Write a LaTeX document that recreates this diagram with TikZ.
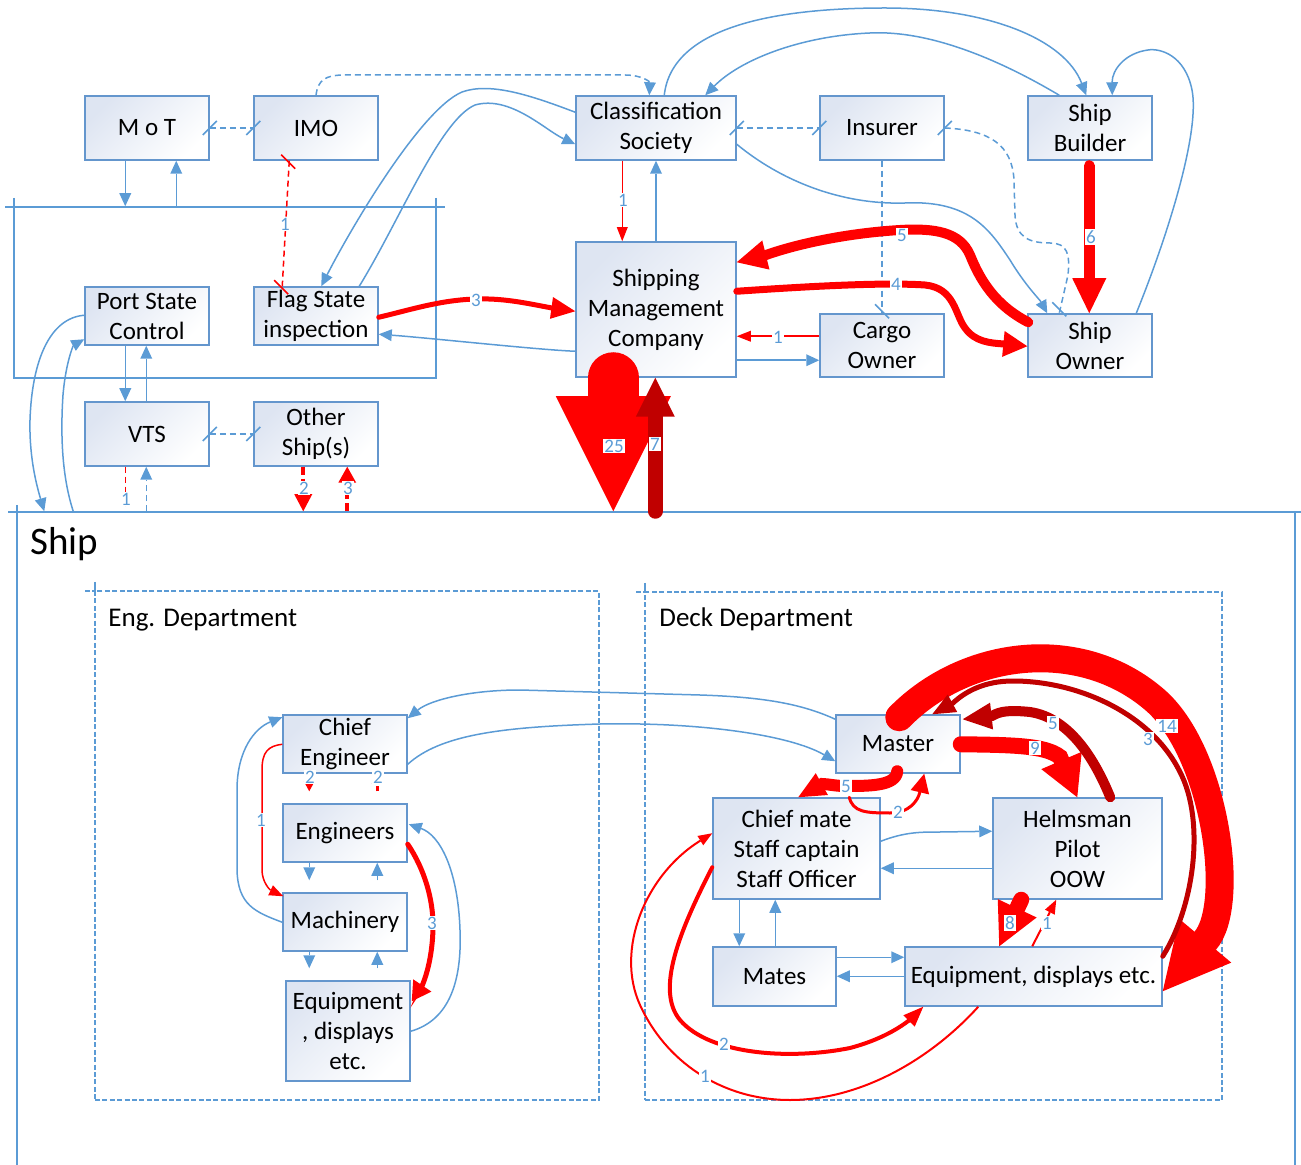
\documentclass[tikz,border=0pt]{standalone}
\usepackage{fontspec}
\setmainfont{Carlito}
\usetikzlibrary{arrows.meta,fit}

\definecolor{lnblue}{RGB}{91,155,213}
\definecolor{boxedge}{RGB}{100,150,205}
\definecolor{boxtint}{RGB}{222,229,242}
\definecolor{fred}{RGB}{255,0,0}
\definecolor{dred}{RGB}{192,0,0}

\newcommand\boxfont{\fontsize{12.5}{15}\selectfont}
\newcommand\numfont{\fontsize{9.5}{10}\selectfont}

\begin{document}
\begin{tikzpicture}[x=0.5pt,y=-0.5pt,
  box/.style={draw=boxedge, line width=0.75pt, top color=boxtint, bottom color=white,
    shading angle=45, align=center, inner sep=0pt, font=\boxfont},
  frame/.style={draw=lnblue, line width=0.75pt, inner sep=0pt},
  dept/.style={frame, dash pattern=on 2.5pt off 1.2pt},
  bl/.style={draw=lnblue, line width=0.75pt},
  blarr/.style={bl, -{Triangle[length=6.5pt,width=6pt,line width=0pt]}},
  bldash/.style={bl, dash pattern=on 3pt off 2pt},
  rthin/.style={draw=fred, line width=1pt, -{Triangle[length=7pt,width=5.5pt,line width=0pt]}},
  lbl/.style={fill=white, text=lnblue, font=\numfont, inner sep=0.6pt},
  tickh/.pic={\draw[solid, line width=0.75pt] (-7,7) -- (7,-7);},
  tickv/.pic={\draw[solid, line width=0.75pt] (-7,-7) -- (7,7);},
]
\useasboundingbox (0,0) rectangle (1301,1165);

% ---------- containers ----------
\node[frame, fit={(14,207) (436,378)}] (gov) {};
\draw[bl] (5,207) -- (14,207) (436,207) -- (445,207) (14,198) -- (14,207) (436,198) -- (436,207);

\node[frame, fit={(17,512) (1295,1200)}] (shipf) {};
\draw[bl] (8,512) -- (17,512) (1295,512) -- (1301,512) (17,505) -- (17,512);
\node[anchor=base west, font=\fontsize{19.5}{20}\selectfont, inner sep=0pt] (shiptitle) at (30,555) {Ship};

\node[dept, fit={(95,591) (599,1100)}] (engd) {};
\draw[bl, dash pattern=on 2.5pt off 1.2pt] (85,591) -- (95,591);
\draw[bl] (95,582) -- (95,591);
\node[anchor=base west, font=\fontsize{13.5}{14}\selectfont, inner sep=0pt] (engtitle) at (108,626) {Eng. Department};

\node[dept, fit={(645,592) (1222,1100)}] (deckd) {};
\draw[bl, dash pattern=on 2.5pt off 1.2pt] (636,592) -- (645,592);
\draw[bl] (645,583) -- (645,592);
\node[anchor=base west, font=\fontsize{13.5}{14}\selectfont, inner sep=0pt] (decktitle) at (659,626) {Deck Department};

% ---------- boxes ----------
\node[box, minimum width=62pt, minimum height=32pt] (mot) at (147,128) {M o T};
\node[box, minimum width=62pt, minimum height=32pt] (imo) at (316,128) {IMO};
\node[box, minimum width=80pt, minimum height=32pt] (cs) at (656,128) {Classification\\Society};
\node[box, minimum width=62pt, minimum height=32pt] (ins) at (882,128) {Insurer};
\node[box, minimum width=62pt, minimum height=32pt] (sb) at (1090,128) {Ship\\Builder};
\node[box, minimum width=62pt, minimum height=29pt] (psc) at (147,316) {Port State\\Control};
\node[box, minimum width=62pt, minimum height=29pt] (fsi) at (316,316) {Flag State\\inspection};
\node[box, minimum width=80pt, minimum height=67.5pt] (smc) at (656,309.5) {Shipping\\Management\\Company};
\node[box, minimum width=62pt, minimum height=31.5pt] (co) at (882,345.5) {Cargo\\Owner};
\node[box, minimum width=62pt, minimum height=31.5pt] (so) at (1090,345.5) {Ship\\Owner};
\node[box, minimum width=62pt, minimum height=32pt] (vts) at (147,434) {VTS};
\node[box, minimum width=62pt, minimum height=32pt] (os) at (316,434) {Other\\Ship(s)};

\node[box, minimum width=62pt, minimum height=29pt] (ce) at (345,744) {Chief\\Engineer};
\node[box, minimum width=62pt, minimum height=29pt] (eng) at (345,833) {Engineers};
\node[box, minimum width=62pt, minimum height=29pt] (mach) at (345,922) {Machinery};
\node[box, minimum width=62pt, minimum height=50pt] (eeq) at (348,1031) {Equipment\\, displays\\etc.};
\node[box, minimum width=62pt, minimum height=29pt] (mst) at (898,744) {Master};
\node[box, minimum width=83.5pt, minimum height=50.5pt] (cm) at (796.5,848.5) {Chief mate\\Staff captain\\Staff Officer};
\node[box, minimum width=84.5pt, minimum height=50.5pt] (hp) at (1077.5,848.5) {Helmsman\\Pilot\\OOW};
\node[box, minimum width=61.5pt, minimum height=29.5pt] (mates) at (774.5,976.5) {Mates};
\node[box, minimum width=128.5pt, minimum height=29.5pt] (deq) at (1033.5,976.5) {Equipment, displays etc.};

% ---------- authorities and shore side ----------
\draw[bldash] (mot.east) -- (imo.west);
\pic[lnblue] at (mot.east) {tickh};
\pic[lnblue] at (imo.west) {tickh};
\draw[bldash] (cs.east) -- (ins.west);
\pic[lnblue] at (cs.east) {tickh};
\pic[lnblue] at (ins.west) {tickh};
\draw[bldash] (vts.east) -- (os.west);
\pic[lnblue] at (vts.east) {tickh};
\pic[lnblue] at (os.west) {tickh};

\draw[bldash, -{Triangle[length=6.5pt,width=6pt,line width=0pt]}] (imo.north)
  .. controls (318,80) and (325,75) .. (345,75) -- (625,75)
  .. controls (642,75) and (650,82) .. ([shift={(74,0)}]cs.north west);
\draw[bldash] (ins.east) .. controls (990,130) and (1012,145) .. (1014,180) -- (1015,215)
  .. controls (1016,238) and (1030,243) .. (1050,243)
  .. controls (1068,243) and (1070,255) .. (1068,275) -- ([shift={(32,0)}]so.north west);
\pic[lnblue] at (ins.east) {tickh};
\pic[lnblue] at ([shift={(32,-4)}]so.north west) {tickv};
\draw[bldash] (ins.south) -- (co.north);
\pic[lnblue] at ([shift={(0,-2)}]co.north) {tickv};

\draw[fred, line width=0.75pt, dash pattern=on 3pt off 2pt] ([shift={(36,0)}]imo.south west) -- ([shift={(29,0)}]fsi.north west);
\pic[fred] at ([shift={(35,1)}]imo.south west) {tickv};
\pic[fred] at ([shift={(28,1)}]fsi.north west) {tickv};

\draw[blarr] ([shift={(41,0)}]mot.south west) -- ([shift={(112,0)}]gov.north west);
\draw[blarr] ([shift={(163,0)}]gov.north west) -- ([shift={(92,0)}]mot.south west);
\draw[blarr] ([shift={(41,0)}]psc.south west) -- ([shift={(41,0)}]vts.north west);
\draw[blarr] ([shift={(62,0)}]vts.north west) -- ([shift={(62,0)}]psc.south west);

\draw[blarr] ([shift={(89,0)}]cs.north west) .. controls (672,25) and (780,8) .. (885,8)
  .. controls (990,8) and (1065,40) .. ([shift={(59,0)}]sb.north west);
\draw[blarr] ([shift={(32,0)}]sb.north west) .. controls (1000,60) and (930,30) .. (870,33)
  .. controls (800,36) and (740,60) .. ([shift={(130,0)}]cs.north west);
\draw[blarr] ([shift={(109,0)}]so.north west) .. controls (1170,230) and (1200,130) .. (1192,90)
  .. controls (1185,55) and (1160,48) .. (1148,50)
  .. controls (1125,53) and (1112,70) .. ([shift={(85,0)}]sb.north west);
\draw[blarr] ([shift={(0,49)}]cs.north east) .. controls (780,180) and (840,205) .. (905,203)
  .. controls (970,200) and (990,230) .. (1010,260)
  .. controls (1025,285) and (1040,300) .. ([shift={(20,0)}]so.north west);
\draw[blarr] ([shift={(0,17)}]cs.north west) .. controls (530,95) and (490,82) .. (462,92)
  .. controls (420,110) and (350,230) .. ([shift={(68,0)}]fsi.north west);
\draw[blarr] ([shift={(106,0)}]fsi.north west) .. controls (400,220) and (440,120) .. (475,105)
  .. controls (510,95) and (545,130) .. ([shift={(0,49)}]cs.north west);
\draw[blarr] (smc.north) -- (cs.south);
\draw[blarr] ([shift={(0,110)}]smc.north west) .. controls (540,350) and (430,338) .. ([shift={(0,48)}]fsi.north east);
\draw[blarr] ([shift={(0,119)}]smc.north east) -- ([shift={(0,47)}]co.north west);

\draw[rthin, line width=0.75pt] ([shift={(47,0)}]cs.south west) -- ([shift={(47,0)}]smc.north west);
\draw[rthin] ([shift={(0,23)}]co.north west) -- ([shift={(0,95)}]smc.north east);

\draw[fred, line width=2.5pt, line cap=round, -{Triangle[length=12pt,width=11pt,line width=0pt]}]
  ([shift={(0,31)}]fsi.north east) .. controls (410,310) and (440,300) .. (476,299)
  .. controls (505,298) and (530,304) .. (552,308) -- ([shift={(0,70)}]smc.north west);
\draw[fred, line width=5pt, line cap=round, -{Triangle[length=15pt,width=15pt,line width=0pt]}]
  ([shift={(1,9)}]so.north west) .. controls (995,305) and (980,280) .. (970,255)
  .. controls (960,232) and (935,228) .. (900,230)
  .. controls (850,233) and (800,243) .. (766,255) -- ([shift={(0,21)}]smc.north east);
\draw[fred, line width=3.5pt, line cap=round, -{Triangle[length=12pt,width=13pt,line width=0pt]}]
  ([shift={(0,50)}]smc.north east) .. controls (800,287) and (880,282) .. (925,285)
  .. controls (955,288) and (955,315) .. (965,328)
  .. controls (975,342) and (990,343) .. (1004,344) -- ([shift={(0,33)}]so.north west);
\draw[fred, line width=5.5pt, line cap=round, -{Triangle[length=17.5pt,width=17pt,line width=0pt]}]
  ([shift={(62,5)}]sb.south west) -- ([shift={(62,0)}]so.north west);

% ---------- shore to ship ----------
\draw[blarr] ([shift={(0,29)}]psc.north west) .. controls (50,318) and (32,360) .. (30,420)
  .. controls (29,460) and (38,490) .. ([shift={(28,0)}]shipf.north west);
\draw[blarr] ([shift={(57,0)}]shipf.north west) .. controls (63,480) and (60,440) .. (63,395)
  .. controls (66,360) and (74,345) .. ([shift={(0,53)}]psc.north west);
\draw[fred, line width=0.75pt, dash pattern=on 3pt off 2pt, -{Triangle[length=5pt,width=5pt,line width=0pt]}]
  ([shift={(41,0)}]vts.south west) -- ([shift={(109,-5)}]shipf.north west);
\draw[bldash, -{Triangle[length=6.5pt,width=6pt,line width=0pt]}]
  ([shift={(130,0)}]shipf.north west) -- ([shift={(62,0)}]vts.south west);
\draw[fred, line width=2pt, dash pattern=on 4pt off 2pt, -{Triangle[length=8.5pt,width=9pt,line width=0pt]}]
  ([shift={(50,0)}]os.south west) -- ([shift={(287,0)}]shipf.north west);
\draw[fred, line width=2pt, dash pattern=on 4pt off 2pt, -{Triangle[length=8pt,width=9pt,line width=0pt]}]
  ([shift={(331,0)}]shipf.north west) -- ([shift={(94,0)}]os.south west);
\draw[fred, line width=25.5pt, line cap=round, -{Triangle[length=57.5pt,width=57.5pt,line width=0pt]}]
  ([shift={(38,0)}]smc.south west) -- ([shift={(597,0)}]shipf.north west);
\draw[dred, line width=7.5pt, line cap=round, -{Triangle[length=19.5pt,width=19.5pt,line width=0pt]}]
  ([shift={(639,0)}]shipf.north west) -- ([shift={(80,0)}]smc.south west);

% ---------- engine department ----------
\draw[blarr] ([shift={(0,5)}]mst.north west) .. controls (800,703) and (760,697) .. (700,695) -- (520,690)
  .. controls (470,690) and (430,700) .. ([shift={(0,4)}]ce.north east);
\draw[blarr] ([shift={(0,50)}]ce.north east) .. controls (440,735) and (500,727) .. (600,724)
  .. controls (700,722) and (790,735) .. ([shift={(0,47)}]mst.north west);
\draw[fred, line width=1.5pt, dash pattern=on 2.5pt off 1.5pt, -{Triangle[length=5pt,width=5.5pt,line width=0pt]}]
  ([shift={(27,0)}]ce.south west) -- ([shift={(27,-12)}]eng.north west);
\draw[fred, line width=1.5pt, dash pattern=on 2.5pt off 1.5pt, -{Triangle[length=5pt,width=5.5pt,line width=0pt]}]
  ([shift={(95,-12)}]eng.north west) -- ([shift={(95,0)}]ce.south west);
\draw[rthin, line width=0.75pt] ([shift={(0,30)}]ce.north west) .. controls (268,746) and (262,752) .. (262,770) -- (262,870)
  .. controls (262,882) and (270,890) .. ([shift={(1,4)}]mach.north west);
\draw[blarr] ([shift={(0,30)}]mach.north west) .. controls (255,912) and (238,905) .. (237,870) -- (237,790)
  .. controls (237,750) and (255,728) .. ([shift={(0,3)}]ce.north west);
\draw[blarr] ([shift={(27,0)}]eng.south west) -- ([shift={(27,-12)}]mach.north west);
\draw[blarr] ([shift={(95,-12)}]mach.north west) -- ([shift={(95,0)}]eng.south west);
\draw[blarr] ([shift={(27,0)}]mach.south west) -- ([shift={(24,-12)}]eeq.north west);
\draw[blarr] ([shift={(92,-12)}]eeq.north west) -- ([shift={(95,0)}]mach.south west);
\draw[fred, line width=2.5pt, line cap=round, -{Triangle[length=9.5pt,width=11pt,line width=0pt]}]
  ([shift={(0,41)}]eng.north east) .. controls (425,870) and (433,900) .. (433,925)
  .. controls (433,950) and (428,972) .. (422,986) -- ([shift={(1,21)}]eeq.north east);
\draw[blarr] ([shift={(0,51)}]eeq.north east) .. controls (450,1020) and (462,980) .. (460,930)
  .. controls (458,870) and (440,835) .. ([shift={(1,21)}]eng.north east);

% ---------- deck department ----------
\draw[blarr] ([shift={(0,44)}]cm.north east) .. controls (905,832) and (920,832) .. (940,832) -- ([shift={(0,34)}]hp.north west);
\draw[blarr] ([shift={(0,71)}]hp.north west) -- ([shift={(0,71)}]cm.north east);
\draw[blarr] ([shift={(27,0)}]cm.south west) -- ([shift={(27,0)}]mates.north west);
\draw[blarr] ([shift={(63,0)}]mates.north west) -- ([shift={(63,0)}]cm.south west);
\draw[blarr] ([shift={(0,11)}]mates.north east) -- ([shift={(0,11)}]deq.north west);
\draw[blarr] ([shift={(0,30)}]deq.north west) -- ([shift={(0,30)}]mates.north east);

\draw[fred, line width=14pt, line cap=round, -{Triangle[length=33pt,width=34pt,line width=0pt]}]
  ([shift={(64,3)}]mst.north west) .. controls (965,650) and (1080,635) .. (1155,700)
  .. controls (1215,752) and (1237,905) .. (1205,941) -- ([shift={(0,45)}]deq.north east);
\draw[dred, line width=2.5pt, line cap=round, -{Triangle[length=11.5pt,width=10pt,line width=0pt]}]
  ([shift={(0,10)}]deq.north east) .. controls (1195,905) and (1205,820) .. (1180,772)
  .. controls (1152,715) and (1080,681) .. (1013,681)
  .. controls (985,681) and (966,691) .. (953,703) -- ([shift={(97,0)}]mst.north west);
\draw[fred, line width=8pt, line cap=round, -{Triangle[length=20pt,width=22pt,line width=0pt]}]
  ([shift={(0,30)}]mst.north east) .. controls (1010,745) and (1045,745) .. (1060,757) -- ([shift={(85,0)}]hp.north west);
\draw[dred, line width=5pt, line cap=round, -{Triangle[length=14.5pt,width=13.5pt,line width=0pt]}]
  ([shift={(118,0)}]hp.north west) .. controls (1095,760) and (1070,718) .. (1030,712)
  .. controls (1010,710) and (1000,711) .. (992,716) -- ([shift={(2,5)}]mst.north east);
\draw[fred, line width=6pt, line cap=round, -{Triangle[length=13.5pt,width=12.5pt,line width=0pt]}]
  ([shift={(62,57)}]mst.north west) .. controls (896,786) and (870,786) .. (845,786)
  .. controls (835,786) and (828,784) .. (822,784) -- ([shift={(86,0)}]cm.north west);
\draw[fred, line width=1.5pt, line cap=round, -{Triangle[length=9.5pt,width=9.5pt,line width=0pt]}]
  ([shift={(137,0)}]cm.north west) .. controls (853,812) and (865,813) .. (890,813)
  .. controls (910,813) and (918,800) .. ([shift={(89,0)}]mst.south west);
\draw[fred, line width=8pt, line cap=round, -{Triangle[length=21pt,width=21.5pt,line width=0pt]}]
  ([shift={(29,0)}]hp.south west) -- ([shift={(95,0)}]deq.north west);
\draw[rthin] ([shift={(128,0)}]deq.north west) -- ([shift={(64,0)}]hp.south west);
\draw[fred, line width=2pt, line cap=round, -{Triangle[length=10pt,width=8pt,line width=0pt]}]
  ([shift={(0,70)}]cm.north west) .. controls (680,930) and (655,990) .. (680,1020)
  .. controls (710,1055) and (790,1060) .. (850,1048)
  .. controls (880,1040) and (900,1028) .. (912,1018) -- ([shift={(19,0)}]deq.south west);
\draw[rthin] ([shift={(74,0)}]deq.south west) .. controls (930,1060) and (860,1100) .. (790,1100)
  .. controls (720,1100) and (665,1060) .. (640,1005)
  .. controls (615,950) and (645,875) .. ([shift={(0,36)}]cm.north west);

% ---------- counts ----------
\node[lbl] (q1) at (285,224) {1};
\node[lbl] (q2) at (623,200) {1};
\node[lbl] (q3) at (476,300) {3};
\node[lbl] (q4) at (778,337) {1};
\node[lbl] (q5) at (902,235) {5};
\node[lbl] (q6) at (896,284) {4};
\node[lbl] (q7) at (1091,237) {6};
\node[lbl] (q8) at (126,499) {1};
\node[lbl] (q9) at (304,488) {2};
\node[lbl] (q10) at (348,488) {3};
\node[lbl] (q11) at (614,446) {25};
\node[lbl] (q12) at (655,444) {7};
\node[lbl] (q13) at (310,777) {2};
\node[lbl] (q14) at (378,777) {2};
\node[lbl] (q15) at (261,820) {1};
\node[lbl] (q16) at (432,923) {3};
\node[lbl] (q17) at (846,786) {5};
\node[lbl] (q18) at (898,812) {2};
\node[lbl] (q19) at (1035,748) {9};
\node[lbl] (q20) at (1053,723) {5};
\node[lbl] (q21) at (1167,726) {14};
\node[lbl] (q22) at (1148,739) {3};
\node[lbl] (q23) at (1010,923) {8};
\node[lbl] (q24) at (1047,923) {1};
\node[lbl] (q25) at (724,1044) {2};
\node[lbl] (q26) at (705,1076) {1};
\end{tikzpicture}
\end{document}
